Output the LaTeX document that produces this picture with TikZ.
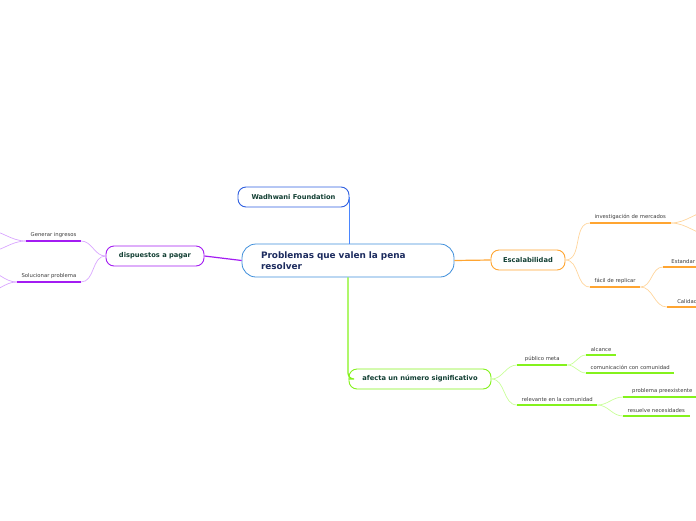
\documentclass[tikz,border=0pt]{standalone}
\usepackage{fontspec}
\setmainfont{DejaVu Sans}
\usetikzlibrary{positioning}
\definecolor{mapblue}{HTML}{3F8FDB}
\definecolor{wadblue}{HTML}{2F5FE0}
\definecolor{linkblue}{HTML}{4A86FF}
\definecolor{navytext}{HTML}{1C2B5E}
\definecolor{topictext}{HTML}{123F33}
\definecolor{leaftext}{HTML}{3A3A3A}
\definecolor{purpdark}{HTML}{A31CF2}
\definecolor{purplight}{HTML}{D9A6FF}
\definecolor{orngdark}{HTML}{FFA531}
\definecolor{ornglight}{HTML}{FFD59C}
\definecolor{grndark}{HTML}{84F21C}
\definecolor{grnlight}{HTML}{C9FF99}
\tikzset{
    central/.style={rectangle, rounded corners=14pt, draw=mapblue, line width=0.8pt, fill=white, text width=174pt, inner xsep=19pt, minimum height=33pt, align=left, font=\fontsize{8.9}{10.8}\selectfont\bfseries, text=navytext},
    topic/.style={rectangle, rounded corners=8pt, draw, line width=0.9pt, fill=white, minimum height=20pt, inner sep=2pt, font=\fontsize{6.7}{8}\selectfont\bfseries, text=topictext},
    leaf/.style={inner xsep=4.5pt, inner ysep=3pt, minimum width=30pt, font=\fontsize{5.3}{6}\selectfont, text=leaftext},
    stem/.style={line width=1.2pt},
    twig/.style={line width=0.7pt},
    uline/.style={line width=1.6pt}
}

\begin{document}
\begin{tikzpicture}[x=1pt, y=-1pt]
    \useasboundingbox (0,0) rectangle (696,520);
    \clip (0,0) rectangle (696,520);

    % central idea and main topics
    \node[central] (core) at (348,260.5) {Problemas que valen la pena\\resolver};
    \node[topic, draw=wadblue, minimum width=111pt] (wad) at (293.5,197) {Wadhwani Foundation};
    \node[topic, draw=purpdark, minimum width=98pt] (pay) at (155,256) {dispuestos a pagar};
    \node[topic, draw=orngdark, minimum width=74pt] (scale) at (528,260) {Escalabilidad};
    \node[topic, draw=grndark, minimum width=142pt] (impact) at (420,379) {afecta un número significativo};

    \draw[stem, linkblue] (wad.east) -- (wad.east |- core.north);
    \draw[stem, purpdark] (core.west) -- (pay.east);
    \draw[stem, orngdark] (core.east) -- (scale.west);
    \draw[stem, grndark, rounded corners=6pt] (core.south) |- (impact.west);

    % dispuestos a pagar
    \node[leaf, anchor=south east] (gen) at (81,241) {Generar ingresos};
    \node[leaf, anchor=south east] (sol) at (81,282) {Solucionar problema};
    \coordinate (gen1) at (-14,230);
    \coordinate (gen2) at (-14,252);
    \coordinate (sol1) at (-14,271);
    \coordinate (sol2) at (-14,292);
    \foreach \a/\b in {pay.west/gen.south east, pay.west/sol.south east,
                       gen.south west/gen1, gen.south west/gen2,
                       sol.south west/sol1, sol.south west/sol2}
        \draw[twig, purplight] (\a) to[out=180, in=0] (\b);
    \foreach \n in {gen, sol}
        \draw[uline, purpdark] (\n.south west) -- (\n.south east);

    % Escalabilidad
    \node[leaf, anchor=south west] (market) at (590,223) {investigación de mercados};
    \node[leaf, anchor=south west] (copy) at (590,287) {fácil de replicar};
    \node[leaf, anchor=south west, inner xsep=2pt, minimum width=40pt] (std) at (663,267) {Estandar};
    \node[leaf, anchor=south west, minimum width=40pt] (qual) at (667,307) {Calidad};
    \coordinate (mkt1) at (712,211);
    \coordinate (mkt2) at (712,235);
    \foreach \a/\b in {scale.east/market.south west, scale.east/copy.south west,
                       copy.south east/std.south west, copy.south east/qual.south west,
                       market.south east/mkt1, market.south east/mkt2}
        \draw[twig, ornglight] (\a) to[out=0, in=180] (\b);
    \foreach \n in {market, copy, std, qual}
        \draw[uline, orngdark] (\n.south west) -- (\n.south east);

    % afecta un numero significativo
    \node[leaf, anchor=south west, minimum width=50pt] (aud) at (517,365) {público meta};
    \node[leaf, anchor=south west] (reach) at (586,355) {alcance};
    \node[leaf, anchor=south west] (talk) at (586,373) {comunicación con comunidad};
    \node[leaf, anchor=south west] (rel) at (517,405) {relevante en la comunidad};
    \node[leaf, anchor=south west, minimum width=78pt] (prev) at (623,397) {problema preexistente};
    \node[leaf, anchor=south west] (needs) at (623,416) {resuelve necesidades};
    \foreach \a/\b in {impact.east/aud.south west, impact.east/rel.south west,
                       aud.south east/reach.south west, aud.south east/talk.south west,
                       rel.south east/prev.south west, rel.south east/needs.south west}
        \draw[twig, grnlight] (\a) to[out=0, in=180] (\b);
    \foreach \n in {aud, reach, talk, rel, prev, needs}
        \draw[uline, grndark] (\n.south west) -- (\n.south east);
\end{tikzpicture}
\end{document}
